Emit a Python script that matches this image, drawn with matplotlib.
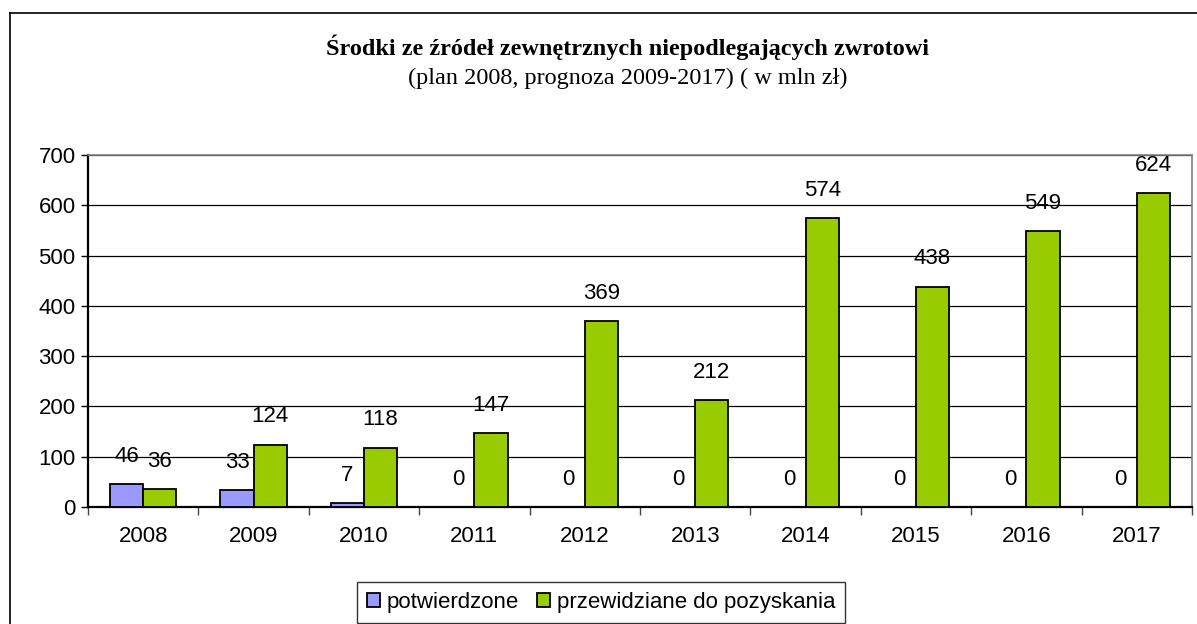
import matplotlib
matplotlib.use("Agg")
import matplotlib.pyplot as plt
from matplotlib.lines import Line2D
import numpy as np

years = ["2008", "2009", "2010", "2011", "2012", "2013", "2014", "2015", "2016", "2017"]
potwierdzone = [46, 33, 7, 0, 0, 0, 0, 0, 0, 0]
przewidziane = [36, 124, 118, 147, 369, 212, 574, 438, 549, 624]

W, H = 1197, 624
fig = plt.figure(figsize=(W / 100, H / 100), dpi=100)
ax = fig.add_axes([88 / W, 1 - 507 / H, 1104 / W, 352 / H])

x = np.arange(len(years))
bw = 0.3
ax.bar(x - bw / 2, potwierdzone, bw, color="#9999FF", edgecolor="black", linewidth=1.3,
       label="potwierdzone", zorder=3)
ax.bar(x + bw / 2, przewidziane, bw, color="#99CC00", edgecolor="black", linewidth=1.3,
       label="przewidziane do pozyskania", zorder=3)

for xi, v in zip(x - bw / 2, potwierdzone):
    ax.annotate(str(v), (xi, v), xytext=(0, 20), textcoords="offset points",
                ha="center", va="center", fontsize=16, family="Liberation Sans", zorder=4)
for xi, v in zip(x + bw / 2, przewidziane):
    ax.annotate(str(v), (xi, v), xytext=(0, 20), textcoords="offset points",
                ha="center", va="center", fontsize=16, family="Liberation Sans", zorder=4)

ax.set_xlim(-0.5, len(years) - 0.5)
ax.set_ylim(0, 700)
ax.set_yticks(range(0, 701, 100))
ax.set_yticklabels([str(v) for v in range(0, 701, 100)], fontsize=16, family="Liberation Sans")
ax.set_xticks(x)
ax.set_xticklabels(years, fontsize=16, family="Liberation Sans")
ax.tick_params(axis="x", length=0, pad=14)
ax.tick_params(axis="y", length=5, width=1, pad=4)
ax.set_xticks(np.arange(-0.5, len(years)), minor=True)
ax.tick_params(axis="x", which="minor", length=6, width=1, color="#444444")
ax.grid(axis="y", color="black", linewidth=0.9, zorder=0)

ax.spines["left"].set_linewidth(1.6)
ax.spines["bottom"].set_linewidth(1.6)
ax.spines["top"].set_color("#808080")
ax.spines["right"].set_color("#808080")
ax.spines["top"].set_linewidth(1.2)
ax.spines["right"].set_linewidth(1.2)

fig.text(628 / W, 1 - 47 / H, "Środki ze źródeł zewnętrznych niepodlegających zwrotowi",
         ha="center", va="center", fontsize=17.5, fontweight="bold", family="Liberation Serif")
fig.text(628 / W, 1 - 78 / H, "(plan 2008, prognoza 2009-2017) ( w mln zł)",
         ha="center", va="center", fontsize=17.5, family="Liberation Serif")

# outer chart frame
fig.add_artist(Line2D([10 / W, 10 / W], [0, 1 - 13 / H], transform=fig.transFigure,
                      color="black", linewidth=1.2))
fig.add_artist(Line2D([10 / W, 1], [1 - 13 / H, 1 - 13 / H], transform=fig.transFigure,
                      color="black", linewidth=1.2))

leg = fig.legend(loc="upper center", bbox_to_anchor=(601 / W, 1 - 582 / H), ncol=2,
                 prop={"family": "Liberation Sans", "size": 16}, frameon=True, fancybox=False,
                 handlelength=0.6, handleheight=0.6, handletextpad=0.3, columnspacing=0.8,
                 borderpad=0.45, borderaxespad=0)
leg.get_frame().set_edgecolor("black")
leg.get_frame().set_linewidth(1.0)

fig.savefig("out.png", dpi=100)
